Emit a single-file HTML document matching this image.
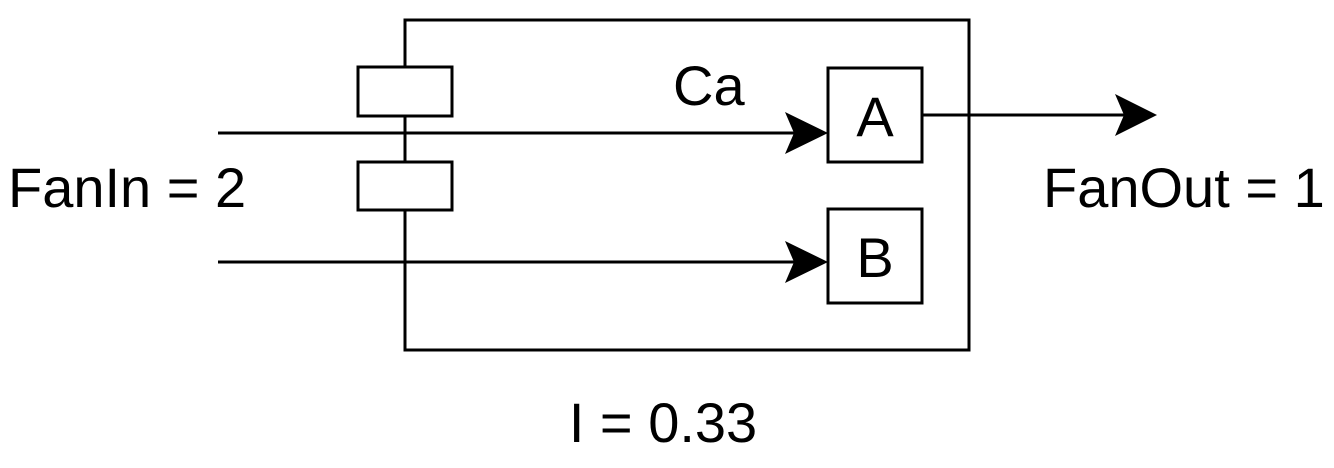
<!DOCTYPE html>
<html><head><meta charset="utf-8"><style>html,body{margin:0;padding:0;background:#fff}svg{display:block}text{font-family:"Liberation Sans",Arial,sans-serif;font-size:56px;fill:#000}</style></head>
<body>
<svg width="1334" height="468" viewBox="0 0 1334 468">
<g fill="none" stroke="#000" stroke-width="3">
<rect x="405" y="20" width="564" height="330"/>
<rect x="358" y="67" width="94" height="49" fill="#fff"/>
<rect x="358" y="162" width="94" height="48" fill="#fff"/>
<rect x="828" y="68" width="94" height="94" fill="#fff"/>
<rect x="828" y="209" width="94" height="94" fill="#fff"/>
<line x1="218" y1="133" x2="800" y2="133"/>
<line x1="218" y1="262" x2="800" y2="262"/>
<line x1="922" y1="115" x2="1130" y2="115"/>
</g>
<g fill="#000">
<path d="M828 133 L785 112 L794 133 L785 154 Z"/>
<path d="M828 262 L785 241 L794 262 L785 283 Z"/>
<path d="M1157 115 L1115 94 L1124 115 L1115 136 Z"/>
</g>
<text x="673" y="105">Ca</text>
<text x="875" y="136" text-anchor="middle">A</text>
<text x="875" y="277" text-anchor="middle">B</text>
<text x="8" y="207">FanIn = 2</text>
<text x="1043" y="207">FanOut = 1</text>
<text x="663" y="442" text-anchor="middle">I = 0.33</text>
</svg>
</body></html>
